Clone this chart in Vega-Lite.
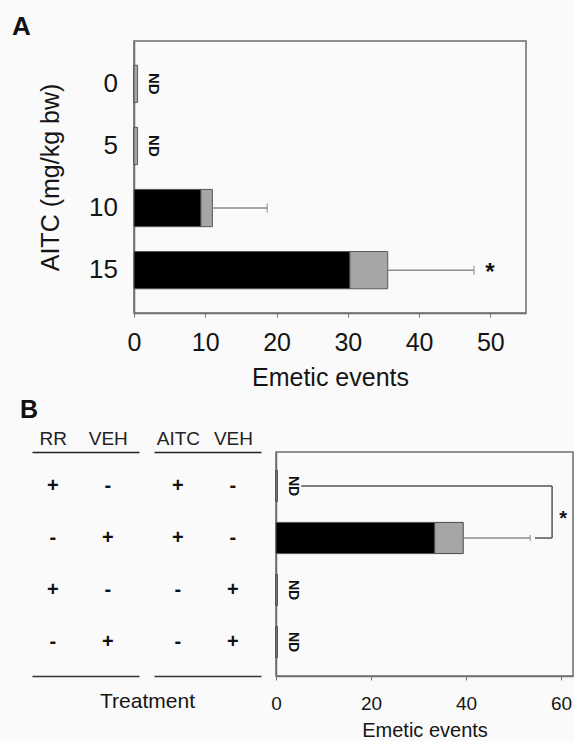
{
  "$schema": "https://vega.github.io/schema/vega-lite/v6.json",
  "background": "#fafafa",
  "padding": {"left": 12, "top": 14, "right": 0, "bottom": 0},
  "config": {
    "font": "Liberation Sans",
    "view": {"stroke": "#6e6e6e", "strokeWidth": 1.5},
    "axis": {"domainColor": "#6e6e6e", "domainWidth": 1.5, "tickColor": "#6e6e6e", "labelColor": "#151515", "titleColor": "#151515", "titleFontWeight": "normal", "grid": false, "labelFont": "Liberation Sans", "titleFont": "Liberation Sans"},
    "title": {"font": "Liberation Sans", "color": "#111111", "fontWeight": "bold"}
  },
  "datasets": {
    "dose": [
      {"dose": "0", "black": 0, "total": 0.5, "err": null, "nd": "ND", "sig": ""},
      {"dose": "5", "black": 0, "total": 0.5, "err": null, "nd": "ND", "sig": ""},
      {"dose": "10", "black": 9.4, "total": 11.0, "err": 18.7, "nd": "", "sig": ""},
      {"dose": "15", "black": 30.3, "total": 35.6, "err": 47.7, "nd": "", "sig": "*"}
    ],
    "treat": [
      {"row": "1", "black": 0, "total": 0.3, "err": null, "nd": "ND"},
      {"row": "2", "black": 33.4, "total": 39.4, "err": 53.5, "nd": ""},
      {"row": "3", "black": 0, "total": 0.3, "err": null, "nd": "ND"},
      {"row": "4", "black": 0, "total": 0.3, "err": null, "nd": "ND"}
    ],
    "compare": [
      {"a": "1", "b": "2", "label": "*"}
    ],
    "signs": [
      {"row": "1", "grp": "RR", "agent": "RR", "sign": "+"},
      {"row": "1", "grp": "RR", "agent": "VEH", "sign": "-"},
      {"row": "1", "grp": "AITC", "agent": "AITC", "sign": "+"},
      {"row": "1", "grp": "AITC", "agent": "VEH", "sign": "-"},
      {"row": "2", "grp": "RR", "agent": "RR", "sign": "-"},
      {"row": "2", "grp": "RR", "agent": "VEH", "sign": "+"},
      {"row": "2", "grp": "AITC", "agent": "AITC", "sign": "+"},
      {"row": "2", "grp": "AITC", "agent": "VEH", "sign": "-"},
      {"row": "3", "grp": "RR", "agent": "RR", "sign": "+"},
      {"row": "3", "grp": "RR", "agent": "VEH", "sign": "-"},
      {"row": "3", "grp": "AITC", "agent": "AITC", "sign": "-"},
      {"row": "3", "grp": "AITC", "agent": "VEH", "sign": "+"},
      {"row": "4", "grp": "RR", "agent": "RR", "sign": "-"},
      {"row": "4", "grp": "RR", "agent": "VEH", "sign": "+"},
      {"row": "4", "grp": "AITC", "agent": "AITC", "sign": "-"},
      {"row": "4", "grp": "AITC", "agent": "VEH", "sign": "+"}
    ]
  },
  "spacing": 7,
  "vconcat": [
    {
      "title": {"text": "A", "anchor": "start", "frame": "group", "dx": -20, "fontSize": 26, "offset": 0},
      "spacing": 16,
      "bounds": "flush",
      "hconcat": [
        {
          "width": 86,
          "height": 272,
          "view": {"stroke": null},
          "data": {"name": "dose"},
          "mark": {"type": "text", "x": "width", "align": "right", "baseline": "middle", "fontSize": 26, "color": "#151515"},
          "encoding": {
            "y": {"field": "dose", "type": "ordinal", "scale": {"type": "band", "domain": ["0", "5", "10", "15"], "paddingInner": 0.4, "paddingOuter": 0.39},
              "axis": {"title": "AITC (mg/kg bw)", "titleFontSize": 25, "titlePadding": 0, "offset": -31, "labels": false, "ticks": false, "domain": false}},
            "text": {"field": "dose"}
          }
        },
        {
          "width": 392,
          "height": 272,
          "data": {"name": "dose"},
          "encoding": {
            "y": {"field": "dose", "type": "ordinal", "scale": {"type": "band", "domain": ["0", "5", "10", "15"], "paddingInner": 0.4, "paddingOuter": 0.39},
              "axis": {"title": null, "labels": false, "ticks": false}}
          },
          "layer": [
            {
              "mark": {"type": "bar", "color": "#000000", "stroke": "#555555", "strokeWidth": 1},
              "encoding": {
                "x": {"field": "black", "type": "quantitative", "scale": {"domain": [0, 55], "nice": false},
                  "axis": {"values": [0, 10, 20, 30, 40, 50], "tickSize": 4, "labelFontSize": 25, "labelPadding": 13, "labelFlush": false, "title": "Emetic events", "titleFontSize": 25, "titlePadding": 10}}
              }
            },
            {
              "mark": {"type": "bar", "color": "#a6a6a6", "stroke": "#5a5a5a", "strokeWidth": 1},
              "encoding": {"x": {"field": "black", "type": "quantitative"}, "x2": {"field": "total"}}
            },
            {
              "transform": [{"filter": "datum.err != null"}],
              "mark": {"type": "rule", "color": "#8c8c8c", "strokeWidth": 1.5},
              "encoding": {"x": {"field": "total", "type": "quantitative"}, "x2": {"field": "err"}}
            },
            {
              "transform": [{"filter": "datum.err != null"}],
              "mark": {"type": "tick", "color": "#8c8c8c", "size": 9, "thickness": 1.5},
              "encoding": {"x": {"field": "err", "type": "quantitative"}}
            },
            {
              "transform": [{"filter": "datum.nd == 'ND'"}],
              "mark": {"type": "text", "angle": 90, "fontSize": 15, "fontWeight": "bold", "align": "center", "baseline": "middle", "dy": -16, "color": "#111111"},
              "encoding": {"x": {"field": "total", "type": "quantitative"}, "text": {"field": "nd"}}
            },
            {
              "transform": [{"filter": "datum.sig == '*'"}],
              "mark": {"type": "text", "fontSize": 24, "fontWeight": "bold", "align": "center", "baseline": "middle", "dx": 16, "dy": 3, "color": "#111111"},
              "encoding": {"x": {"field": "err", "type": "quantitative"}, "text": {"field": "sig"}}
            }
          ]
        }
      ]
    },
    {
      "spacing": 15,
      "bounds": "flush",
      "title": {"text": "B", "anchor": "start", "frame": "group", "dx": -12, "fontSize": 25, "offset": 6},
      "hconcat": [
        {
          "width": 107,
          "height": 224,
          "view": {"stroke": null},
          "data": {"name": "signs"},
          "transform": [{"filter": "datum.grp == 'RR'"}],
          "encoding": {
            "y": {"field": "row", "type": "ordinal", "scale": {"type": "band", "domain": ["1", "2", "3", "4"], "paddingInner": 0.4, "paddingOuter": 0.354}, "axis": null},
            "text": {"field": "sign"}
          },
          "layer": [
            {
              "transform": [{"filter": "datum.row == '1' || datum.row == '2'"}],
              "mark": {"type": "text", "fontSize": 20, "fontWeight": "bold", "align": "center", "baseline": "middle", "color": "#111111"},
              "encoding": {"x": {"field": "agent", "type": "nominal", "sort": ["RR", "VEH"], "scale": {"type": "point", "padding": 0.4727, "align": 0.4},
                "axis": {"orient": "top", "title": null, "ticks": false, "labelFontSize": 19, "labelPadding": 4, "labelAngle": 0, "domainColor": "#222222", "labelColor": "#222222"}}}
            },
            {
              "transform": [{"filter": "datum.row == '3' || datum.row == '4'"}],
              "mark": {"type": "text", "fontSize": 20, "fontWeight": "bold", "align": "center", "baseline": "middle", "color": "#111111"},
              "encoding": {"x": {"field": "agent", "type": "nominal", "sort": ["RR", "VEH"], "scale": {"type": "point", "padding": 0.4727, "align": 0.4},
                "axis": {"orient": "bottom", "ticks": false, "labels": false, "domainColor": "#333333", "title": "Treatment", "titleFontSize": 21, "titleX": 115, "titleY": 25, "titleBaseline": "middle", "titleAlign": "center"}}}
            }
          ],
          "resolve": {"axis": {"x": "independent"}}
        },
        {
          "width": 107,
          "height": 224,
          "view": {"stroke": null},
          "data": {"name": "signs"},
          "transform": [{"filter": "datum.grp == 'AITC'"}],
          "encoding": {
            "y": {"field": "row", "type": "ordinal", "scale": {"type": "band", "domain": ["1", "2", "3", "4"], "paddingInner": 0.4, "paddingOuter": 0.354}, "axis": null},
            "text": {"field": "sign"}
          },
          "layer": [
            {
              "transform": [{"filter": "datum.row == '1' || datum.row == '2'"}],
              "mark": {"type": "text", "fontSize": 20, "fontWeight": "bold", "align": "center", "baseline": "middle", "color": "#111111"},
              "encoding": {"x": {"field": "agent", "type": "nominal", "sort": ["AITC", "VEH"], "scale": {"type": "point", "padding": 0.4727, "align": 0.46},
                "axis": {"orient": "top", "title": null, "ticks": false, "labelFontSize": 19, "labelPadding": 4, "labelAngle": 0, "domainColor": "#222222", "labelColor": "#222222"}}}
            },
            {
              "transform": [{"filter": "datum.row == '3' || datum.row == '4'"}],
              "mark": {"type": "text", "fontSize": 20, "fontWeight": "bold", "align": "center", "baseline": "middle", "color": "#111111"},
              "encoding": {"x": {"field": "agent", "type": "nominal", "sort": ["AITC", "VEH"], "scale": {"type": "point", "padding": 0.4727, "align": 0.46},
                "axis": {"orient": "bottom", "title": null, "ticks": false, "labels": false, "domainColor": "#333333"}}}
            }
          ],
          "resolve": {"axis": {"x": "independent"}}
        },
        {
          "width": 297,
          "height": 224,
          "data": {"name": "treat"},
          "encoding": {
            "y": {"field": "row", "type": "ordinal", "scale": {"type": "band", "domain": ["1", "2", "3", "4"], "paddingInner": 0.4, "paddingOuter": 0.354},
              "axis": {"labels": false, "ticks": false, "title": null}}
          },
          "layer": [
            {
              "mark": {"type": "bar", "color": "#000000", "stroke": "#555555", "strokeWidth": 1},
              "encoding": {
                "x": {"field": "black", "type": "quantitative", "scale": {"domain": [0, 62.5], "nice": false},
                  "axis": {"values": [0, 20, 40, 60], "tickSize": 4, "labelFontSize": 19, "labelPadding": 14, "labelFlush": false, "title": "Emetic events", "titleFontSize": 20, "titlePadding": 7}}
              }
            },
            {
              "mark": {"type": "bar", "color": "#a6a6a6", "stroke": "#4a4a4a", "strokeWidth": 1},
              "encoding": {"x": {"field": "black", "type": "quantitative"}, "x2": {"field": "total"}}
            },
            {
              "transform": [{"filter": "datum.err != null"}],
              "mark": {"type": "rule", "color": "#8c8c8c", "strokeWidth": 1.5},
              "encoding": {"x": {"field": "total", "type": "quantitative"}, "x2": {"field": "err"}}
            },
            {
              "transform": [{"filter": "datum.err != null"}],
              "mark": {"type": "tick", "color": "#8c8c8c", "size": 6, "thickness": 1.5},
              "encoding": {"x": {"field": "err", "type": "quantitative"}}
            },
            {
              "transform": [{"filter": "datum.nd == 'ND'"}],
              "mark": {"type": "text", "angle": 90, "fontSize": 14, "fontWeight": "bold", "align": "center", "baseline": "middle", "dy": -16, "color": "#111111"},
              "encoding": {"x": {"field": "total", "type": "quantitative"}, "text": {"field": "nd"}}
            },
            {
              "data": {"name": "compare"},
              "mark": {"type": "rule", "color": "#555555", "strokeWidth": 1.5},
              "encoding": {"y": {"field": "a", "type": "ordinal", "bandPosition": 0.5}, "x": {"datum": 5.3, "type": "quantitative"}, "x2": {"datum": 58.1}}
            },
            {
              "data": {"name": "compare"},
              "mark": {"type": "rule", "color": "#555555", "strokeWidth": 1.5},
              "encoding": {"y": {"field": "a", "type": "ordinal", "bandPosition": 0.5}, "y2": {"field": "b", "bandPosition": 0.5}, "x": {"datum": 58.1, "type": "quantitative"}}
            },
            {
              "data": {"name": "compare"},
              "mark": {"type": "rule", "color": "#555555", "strokeWidth": 1.5},
              "encoding": {"y": {"field": "b", "type": "ordinal", "bandPosition": 0.5}, "x": {"datum": 54.5, "type": "quantitative"}, "x2": {"datum": 58.1}}
            },
            {
              "data": {"name": "compare"},
              "mark": {"type": "text", "fontSize": 20, "fontWeight": "bold", "align": "center", "baseline": "middle", "dy": 33, "color": "#111111"},
              "encoding": {"y": {"field": "a", "type": "ordinal"}, "x": {"datum": 60.4, "type": "quantitative"}, "text": {"field": "label"}}
            }
          ]
        }
      ]
    }
  ]
}
